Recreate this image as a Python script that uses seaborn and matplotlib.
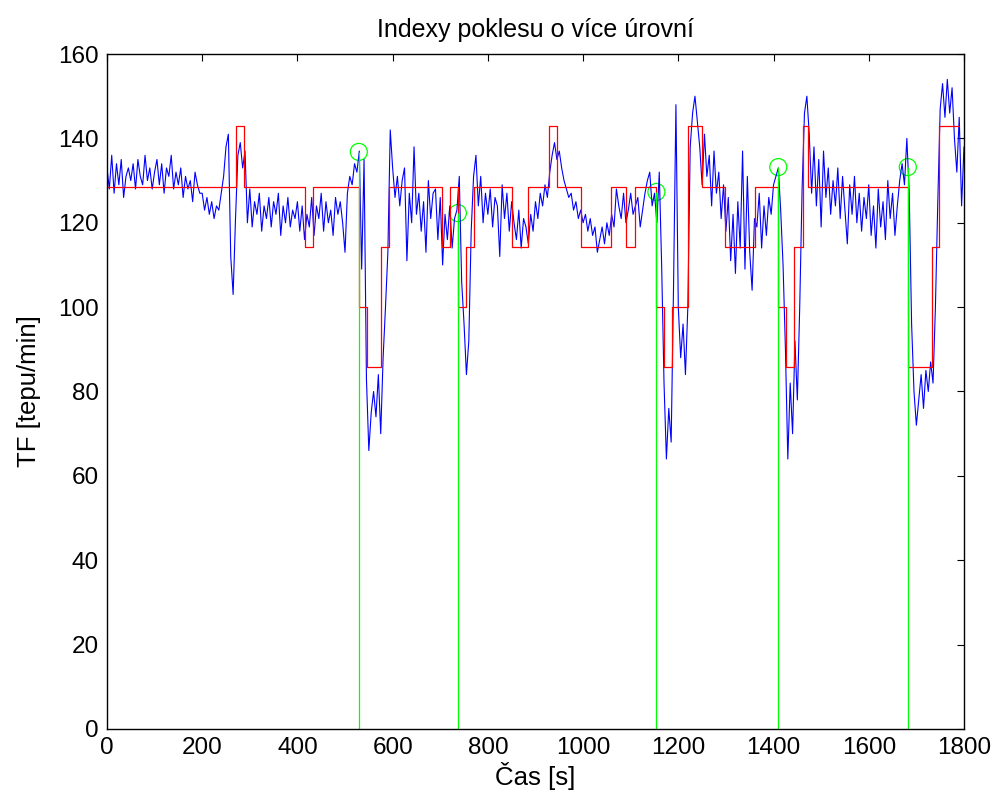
import numpy as np
import pandas as pd
import matplotlib
matplotlib.use("Agg")
import matplotlib.pyplot as plt
import seaborn as sns

# ---------------- data ----------------
# heart rate (TF) sampled every 5 s, 0..1800 s
time_s = list(range(0, 1801, 5))
hr_0 = [133,128,136,127,134,129,135,126,131,133,130,134,128,135,131,129,136,130,133,128]
hr_1 = [132,135,129,134,127,133,131,136,128,132,129,133,126,131,128,130,125,132,129,127]
hr_2 = [127,123,126,122,125,121,124,123,127,131,138,141,112,103,121,136,139,133,137,120]
hr_3 = [128,119,125,122,127,118,124,121,126,119,125,122,127,117,124,120,126,119,123,121]
hr_4 = [125,118,124,116,122,119,126,117,124,121,127,118,125,120,123,117,126,122,125,120]
hr_5 = [113,127,131,129,134,132,137,109,135,83,66,75,80,74,84,70,88,100,113,142]
hr_6 = [133,126,131,124,130,133,111,127,120,138,122,127,118,125,113,130,121,127,128,116]
hr_7 = [126,110,122,116,124,114,121,123,131,106,96,84,92,118,131,136,124,131,120,127]
hr_8 = [122,128,119,126,124,112,129,121,127,118,125,120,116,123,114,121,119,115,122,118]
hr_9 = [125,121,127,124,129,126,132,136,139,135,137,133,130,128,126,127,123,125,121,123]
hr_10 = [120,122,118,121,117,119,113,116,119,115,120,117,122,119,128,124,121,127,120,123]
hr_11 = [127,122,124,126,119,123,127,130,132,124,127,120,132,110,82,64,76,68,105,148]
hr_12 = [100,88,96,84,100,138,146,150,144,138,129,141,131,136,124,137,127,132,121,129]
hr_13 = [118,126,111,122,108,125,114,137,109,131,113,104,121,119,127,114,124,117,126,122]
hr_14 = [129,131,133,123,110,90,64,82,70,92,78,100,128,146,150,141,127,138,124,135]
hr_15 = [119,137,126,133,122,130,124,133,121,131,123,115,129,122,131,120,127,118,126,121]
hr_16 = [129,117,124,114,128,119,125,116,130,121,127,117,124,130,134,129,140,127,96,80]
hr_17 = [72,78,84,76,85,80,87,82,100,125,147,153,145,154,146,152,140,132,145,124,138]
heart_rate = (hr_0 + hr_1 + hr_2 + hr_3 + hr_4 + hr_5 + hr_6 + hr_7 + hr_8 + hr_9 +
              hr_10 + hr_11 + hr_12 + hr_13 + hr_14 + hr_15 + hr_16 + hr_17)

# quantised levels (multiples of 100/7) -- red staircase
level_unit = 100 / 7
step_start = [0, 272, 288, 416, 433, 529, 546, 575, 593, 704, 721, 737, 754, 771, 851,
              884, 928, 945, 996, 1058, 1091, 1108, 1153, 1170, 1187, 1220, 1249, 1299,
              1362, 1410, 1427, 1444, 1461, 1473, 1682, 1732, 1748, 1790]
step_level = [9, 10, 9, 8, 9, 7, 6, 8, 9, 8, 9, 7, 8, 9, 8,
              9, 10, 9, 8, 9, 8, 9, 7, 6, 7, 10, 9, 8,
              9, 7, 6, 8, 10, 9, 6, 8, 10, 10]

# detected drop indices (green stems)
drop_time = [529, 737, 1154, 1410, 1682]
drop_value = [136.8, 122.3, 127.3, 133.2, 133.2]

# ---------------- tables ----------------
df_hr = pd.DataFrame({"t": time_s, "hr": heart_rate})
df_step = pd.DataFrame({"t": step_start, "lvl": [k * level_unit for k in step_level]})
df_drop = pd.DataFrame({"t": drop_time, "v": drop_value})

# ---------------- style ----------------
sns.set_style("white")
plt.rcParams["font.family"] = ["Liberation Sans", "DejaVu Sans"]
plt.rcParams["text.color"] = "black"
plt.rcParams["axes.labelcolor"] = "black"

fig = plt.figure(figsize=(9.94, 7.98), dpi=100)
ax = fig.add_axes([0.1076, 0.0865, 0.8622, 0.8458])

sns.lineplot(data=df_hr, x="t", y="hr", color="#0000ff", lw=0.8, ax=ax,
             estimator=None, sort=False)
sns.lineplot(data=df_step, x="t", y="lvl", color="#ff0000", lw=0.9, ax=ax,
             estimator=None, sort=False, drawstyle="steps-post")
ax.vlines(df_drop["t"], 0, df_drop["v"], color="#00ff00", lw=0.9)
sns.scatterplot(data=df_drop, x="t", y="v", marker="o", s=150, ax=ax,
                facecolors="none", edgecolor="#00ff00", linewidth=0.9)

ax.set_xlim(0, 1800)
ax.set_ylim(0, 160)
ax.set_xticks(range(0, 1801, 200))
ax.set_yticks(range(0, 161, 20))
ax.tick_params(direction="in", top=True, right=True, length=5, width=0.8,
               labelsize=17.5, colors="black", pad=6)
for s in ax.spines.values():
    s.set_color("black")
    s.set_linewidth(1.0)

ax.set_title("Indexy poklesu o více úrovní", fontsize=18, pad=12, color="black")
ax.set_xlabel("Čas [s]", fontsize=18.5, labelpad=2)
ax.set_ylabel("TF [tepu/min]", fontsize=18.5, labelpad=12)

fig.savefig("out.png", dpi=100, facecolor="white")
